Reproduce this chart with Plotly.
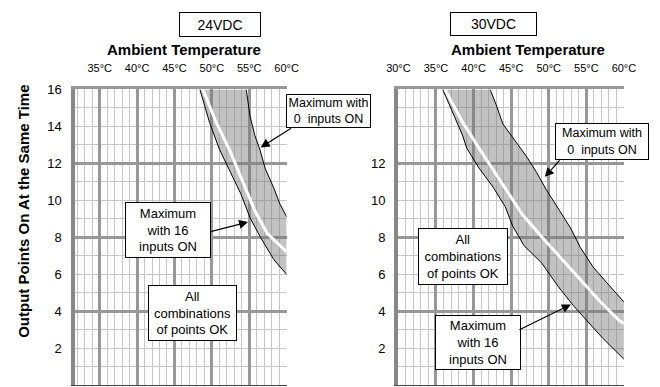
import plotly.graph_objects as go

W, H = 660, 387
FONT = "Liberation Sans, Arial, sans-serif"

# ---------------- data ----------------
# 24VDC panel (ambient temperature degC vs output points)
t24_lo = [48.4, 49.7, 51.0, 52.5, 53.9, 55.1, 56.5, 58.3, 60.0]
v24_lo = [16.0, 14.2, 12.77, 11.55, 10.33, 9.06, 8.0, 6.78, 5.99]
t24_hi = [54.6, 55.1, 55.75, 56.4, 57.15, 58.3, 59.1, 60.0]
v24_hi = [16.0, 14.57, 13.51, 12.77, 11.71, 10.65, 9.8, 9.11]
t24_mid = [48.8, 50.6, 52.5, 54.5, 55.75, 57.4, 60.0]
v24_mid = [16.0, 14.2, 12.61, 10.65, 9.43, 8.21, 7.2]

# 30VDC panel
t30_lo = [35.9, 37.2, 38.5, 39.1, 40.7, 42.6, 44.2, 45.2, 46.7, 49.05, 51.25, 53.3, 55.1, 57.15, 59.75, 60.0]
v30_lo = [16.0, 14.76, 13.55, 12.82, 11.76, 10.71, 9.66, 8.61, 7.55, 6.61, 5.34, 4.29, 3.45, 2.55, 1.5, 1.4]
t30_hi = [42.2, 43.0, 43.9, 45.45, 47.1, 48.4, 49.7, 50.7, 52.9, 54.2, 55.9, 57.7, 59.35, 60.0]
v30_hi = [16.0, 15.18, 14.13, 13.24, 12.34, 11.5, 10.55, 9.92, 8.5, 7.45, 6.39, 5.55, 4.82, 4.5]
t30_mid = [36.2, 38.5, 40.7, 42.9, 46.47, 49.05, 51.62, 54.2, 56.77, 59.34, 60.0]
v30_mid = [16.0, 14.26, 12.84, 11.47, 9.24, 8.03, 6.87, 5.71, 4.55, 3.5, 3.34]

x24_ticks = [35, 40, 45, 50, 55, 60]
x30_ticks = [30, 35, 40, 45, 50, 55, 60]
y24_ticks = [2, 4, 6, 8, 10, 12, 14, 16]
y30_ticks = [2, 4, 6, 8, 10, 12]
y_grid_major = [0, 4, 8, 12, 16]

BAND = "rgba(120,120,120,0.45)"
MAJOR = "#989898"
MINOR = "#c6c6c6"

fig = go.Figure()


def add_panel(xa, ya, t_lo, v_lo, t_hi, v_hi, t_mid, v_mid):
    fig.add_trace(go.Scatter(x=t_lo + t_hi[::-1], y=v_lo + v_hi[::-1], mode="lines",
                             line=dict(width=0), fill="toself", fillcolor=BAND,
                             xaxis=xa, yaxis=ya, hoverinfo="skip"))
    fig.add_trace(go.Scatter(x=t_lo, y=v_lo, mode="lines", line=dict(color="black", width=1),
                             xaxis=xa, yaxis=ya))
    fig.add_trace(go.Scatter(x=t_hi, y=v_hi, mode="lines", line=dict(color="black", width=1),
                             xaxis=xa, yaxis=ya))
    fig.add_trace(go.Scatter(x=t_mid, y=v_mid, mode="lines", line=dict(color="white", width=3),
                             xaxis=xa, yaxis=ya))


add_panel("x", "y", t24_lo, v24_lo, t24_hi, v24_hi, t24_mid, v24_mid)
add_panel("x2", "y2", t30_lo, v30_lo, t30_hi, v30_hi, t30_mid, v30_mid)

# empty traces so that the overlay (label / border) axes get drawn
for xa, ya in [("x", "y3"), ("x2", "y4"), ("x3", "y"), ("x4", "y2")]:
    fig.add_trace(go.Scatter(x=[], y=[], xaxis=xa, yaxis=ya, mode="lines", hoverinfo="skip"))

ydom = [2 / H, 1 - 84 / H]
minor_x = dict(tickmode="linear", tick0=30, dtick=1, showgrid=True, gridcolor=MINOR, gridwidth=1)
minor_y = dict(tickmode="linear", tick0=0, dtick=1, showgrid=True, gridcolor=MINOR, gridwidth=1)


def xax(dom, rng, ticks):
    return dict(domain=dom, range=rng, side="top", tickmode="array", tickvals=ticks,
                ticktext=[f"{t}°C" for t in ticks], ticks="", ticklabelstandoff=10,
                tickfont=dict(family=FONT, size=11, color="black"),
                showgrid=True, gridcolor=MAJOR, gridwidth=3, minor=minor_x,
                showline=True, linecolor=MAJOR, linewidth=3, zeroline=False, fixedrange=True)


def yax(anchor):
    return dict(domain=ydom, range=[0, 16], anchor=anchor, tickmode="array", tickvals=y_grid_major,
                showticklabels=False, ticks="", showgrid=True, gridcolor=MAJOR, gridwidth=3,
                minor=minor_y, showline=True, linecolor="#888888", linewidth=4,
                zeroline=False, fixedrange=True)


def ylab(over, anchor, ticks):
    return dict(overlaying=over, anchor=anchor, side="left", range=[0, 16], tickmode="array",
                tickvals=ticks, ticks="", ticklabelstandoff=12, showgrid=False, zeroline=False,
                showline=False, tickfont=dict(family=FONT, size=13, color="black"), fixedrange=True)


def xbot(over, anchor, rng):
    return dict(overlaying=over, anchor=anchor, side="bottom", range=rng, showgrid=False,
                showticklabels=False, ticks="", zeroline=False, showline=True,
                linecolor="#444", linewidth=1, fixedrange=True)


fig.update_layout(
    width=W, height=H, margin=dict(l=0, r=0, t=0, b=0),
    paper_bgcolor="white", plot_bgcolor="white", showlegend=False,
    font=dict(family=FONT, color="black"),
    xaxis=dict(xax([65 / W, 285 / W], [31.65, 60], x24_ticks), anchor="y"),
    yaxis=yax("x"),
    xaxis2=dict(xax([401 / W, 635 / W], [30, 60], x30_ticks), anchor="y2"),
    yaxis2=yax("x2"),
    yaxis3=ylab("y", "x", y24_ticks),
    yaxis4=ylab("y2", "x2", y30_ticks),
    xaxis3=xbot("x", "y", [31.65, 60]),
    xaxis4=xbot("x2", "y2", [30, 60]),
)


def box(text, x0, y0, x1, y1, size=13):
    fig.add_annotation(text=text, xref="paper", yref="paper", x=(x0 + x1) / 2 / W,
                       y=1 - (y0 + y1) / 2 / H, xanchor="center", yanchor="middle",
                       showarrow=False, align="center", bgcolor="white", bordercolor="black",
                       borderwidth=1, borderpad=1, width=x1 - x0 - 4, height=y1 - y0 - 4,
                       font=dict(family=FONT, size=size, color="black"))


def arrow(tipx, tipy, tailx, taily):
    fig.add_annotation(text="", xref="paper", yref="paper", x=tipx / W, y=1 - tipy / H,
                       ax=tailx - tipx, ay=taily - tipy, showarrow=True, arrowhead=2,
                       arrowsize=1.5, arrowwidth=1.2, arrowcolor="black")


def label(text, x, y, size=13, angle=0):
    fig.add_annotation(text=text, xref="paper", yref="paper", x=x / W, y=1 - y / H,
                       xanchor="center", yanchor="middle", showarrow=False, textangle=angle,
                       font=dict(family=FONT, size=size, color="black"))


box("24VDC", 175, 5, 257, 30, size=14)
box("30VDC", 456, 5, 543, 29, size=14)
label("<b>Ambient Temperature</b>", 178, 43, size=15)
label("<b>Ambient Temperature</b>", 535, 43, size=15)
label("<b>Output Points On At the Same Time</b>", 12, 208, size=15, angle=-90)

box("Maximum with<br>0  inputs ON", 286, 89, 371, 123, size=12.5)
arrow(258, 143, 290, 123)
box("Maximum<br>with 16<br>inputs ON", 119, 199, 205, 255, size=13)
arrow(245, 219, 206, 229)
box("All<br>combinations<br>of points OK", 143, 284, 232, 340, size=13)

box("Maximum with<br>0  inputs ON", 565, 118, 659, 155, size=12.5)
arrow(553, 173, 569, 155)
box("All<br>combinations<br>of points OK", 423, 226, 513, 283, size=13)
box("Maximum<br>with 16<br>inputs ON", 441, 314, 527, 369, size=13)
arrow(580, 303, 527, 329)

fig.write_html("out.html")
